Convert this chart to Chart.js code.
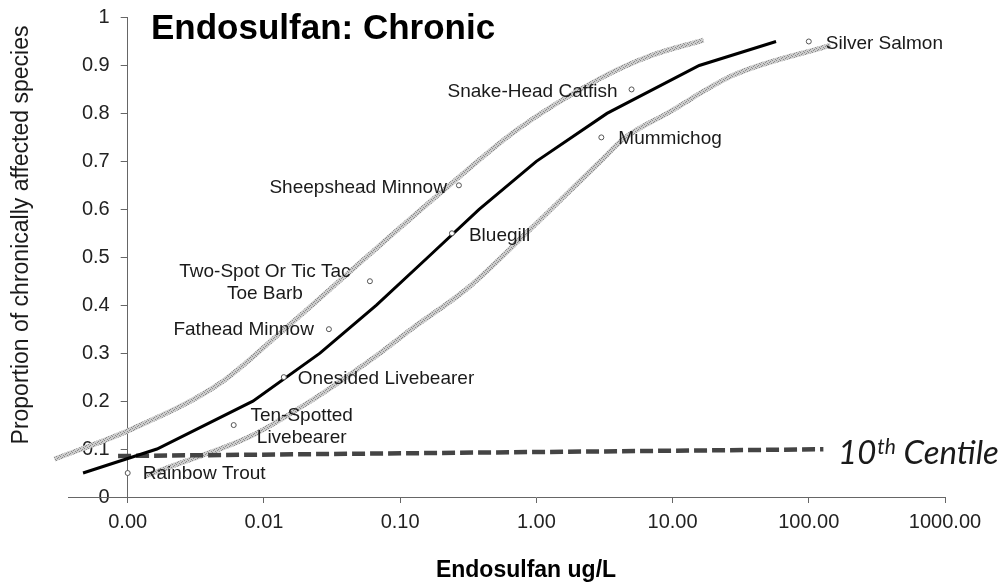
<!DOCTYPE html>
<html>
<head>
<meta charset="utf-8">
<title>Endosulfan: Chronic</title>
<script src="https://cdn.jsdelivr.net/npm/chart.js@4"></script>
<style>
  html, body { margin: 0; padding: 0; background: #fff; }
  #wrap { width: 1006px; height: 583px; position: relative; }
</style>
</head>
<body>
<div id="wrap"><canvas id="ssdChart"></canvas></div>
<script>
// Species sensitivity data
const species = [
  "Rainbow Trout", "Ten-Spotted\nLivebearer", "Onesided Livebearer", "Fathead Minnow",
  "Two-Spot Or Tic Tac\nToe Barb", "Sheepshead Minnow", "Bluegill",
  "Snake-Head Catfish", "Mummichog", "Silver Salmon"
];
const speciesConc = [0.001, 0.006, 0.014, 0.03, 0.06, 0.27, 0.24, 5, 3, 100];
const speciesProp = [0.05, 0.15, 0.25, 0.35, 0.45, 0.65, 0.55, 0.85, 0.75, 0.95];

// fitted curve
const fitConc = [0.00047, 0.00164, 0.0083, 0.0258, 0.067, 0.16, 0.38, 1.0, 3.3, 15.7, 57.5];
const fitProp = [0.05, 0.1, 0.2, 0.3, 0.4, 0.5, 0.6, 0.7, 0.8, 0.9, 0.95];

// confidence bands
const upperConc = [0.00029, 0.00104, 0.00475, 0.0135, 0.0428, 0.071, 0.209, 0.714, 2.95, 6.85, 16.9];
const upperProp = [0.079, 0.14, 0.237, 0.345, 0.47, 0.525, 0.64, 0.765, 0.873, 0.92, 0.953];
const lowerConc = [0.00135, 0.00204, 0.00789, 0.0206, 0.071, 0.118, 0.324, 0.893, 2.95, 4.47, 9.1, 28.1, 144];
const lowerProp = [0.044, 0.063, 0.126, 0.195, 0.3, 0.348, 0.439, 0.557, 0.7, 0.749, 0.8, 0.88, 0.942];

// 10th centile line
const centileConc = [0.00085, 128];
const centileProp = [0.0855, 0.0995];

const xTicks = [0.001, 0.01, 0.1, 1, 10, 100, 1000];

// label placement around each species point: [dx, dy, align]
const labelPlacement = [
  [15, 1, "left"], [68, -9, "center"], [14, 2, "left"], [-15, 1, "right"],
  [-105, -9, "center"], [-12, 2, "right"], [17, 2, "left"],
  [-14, 2, "right"], [17, 1, "left"], [17, 2, "left"]
];

const SANS = "'Liberation Sans', Arial, sans-serif";
const AXIS_GREY = "#666";

function toPoints(xs, ys) {
  return xs.map((x, i) => ({ x: x, y: ys[i] }));
}

// stippled grey stroke used for the confidence band lines
function stipple() {
  const c = document.createElement("canvas");
  c.width = 4;
  c.height = 4;
  const g = c.getContext("2d");
  g.fillStyle = "#cdcdcd";
  g.fillRect(0, 0, 4, 4);
  g.fillStyle = "#8a8a8a";
  g.fillRect(0, 0, 1, 1);
  g.fillRect(2, 1, 1, 1);
  g.fillRect(1, 2, 1, 1);
  g.fillRect(3, 3, 1, 1);
  return g.createPattern(c, "repeat");
}

// the x axis line carries on a little to the left of the y axis
const axisStub = {
  id: "axisStub",
  beforeDatasetsDraw(chart) {
    const ctx = chart.ctx;
    const area = chart.chartArea;
    ctx.save();
    ctx.strokeStyle = AXIS_GREY;
    ctx.lineWidth = 1;
    ctx.beginPath();
    ctx.moveTo(68, Math.round(area.bottom) + 0.5);
    ctx.lineTo(area.left, Math.round(area.bottom) + 0.5);
    ctx.stroke();
    ctx.restore();
  }
};

const textPlugin = {
  id: "chartText",
  afterDatasetsDraw(chart) {
    const ctx = chart.ctx;
    const xs = chart.scales.x;
    const ys = chart.scales.y;
    ctx.save();
    ctx.fillStyle = "#1a1a1a";
    ctx.font = "19px " + SANS;
    ctx.textBaseline = "middle";
    species.forEach((name, i) => {
      const px = xs.getPixelForValue(speciesConc[i]);
      const py = ys.getPixelForValue(speciesProp[i]);
      const [dx, dy, align] = labelPlacement[i];
      ctx.textAlign = align;
      name.split("\n").forEach((line, k) => {
        ctx.fillText(line, px + dx, py + dy + k * 22);
      });
    });

    // chart title
    ctx.fillStyle = "#000";
    ctx.textAlign = "left";
    ctx.textBaseline = "alphabetic";
    ctx.font = "bold 35px " + SANS;
    ctx.fillText("Endosulfan: Chronic", 151, 39);

    // x axis title
    ctx.textAlign = "center";
    ctx.font = "bold 23px " + SANS;
    ctx.fillText("Endosulfan ug/L", 526, 577);

    // y axis title
    ctx.save();
    ctx.translate(28, 235);
    ctx.rotate(-Math.PI / 2);
    ctx.font = "23px " + SANS;
    ctx.fillStyle = "#1a1a1a";
    ctx.fillText("Proportion of chronically affected species", 0, 0);
    ctx.restore();

    // 10th centile label
    ctx.fillStyle = "#1a1a1a";
    ctx.textAlign = "left";
    const cx = 838;
    const cy = 464;
    ctx.font = "italic 33px Lato, 'Open Sans', sans-serif";
    ctx.fillText("10", cx, cy);
    let w = ctx.measureText("10").width;
    ctx.font = "italic 21px Lato, 'Open Sans', sans-serif";
    ctx.fillText("th", cx + w + 1, cy - 10);
    w += ctx.measureText("th").width + 1;
    ctx.font = "italic 33px Lato, 'Open Sans', sans-serif";
    ctx.fillText(" Centile", cx + w, cy);
    ctx.restore();
  }
};

new Chart(document.getElementById("ssdChart"), {
  type: "line",
  data: {
    datasets: [
      {
        type: "scatter",
        label: "Species",
        data: toPoints(speciesConc, speciesProp),
        pointRadius: 2.5,
        pointBorderWidth: 1,
        pointBorderColor: "#555",
        pointBackgroundColor: "#fff",
        showLine: false,
        clip: false,
        order: 0
      },
      {
        label: "Fit",
        data: toPoints(fitConc, fitProp),
        borderColor: "#000",
        borderWidth: 3,
        pointRadius: 0,
        tension: 0,
        fill: false,
        clip: false,
        order: 1
      },
      {
        label: "10th centile",
        data: toPoints(centileConc, centileProp),
        borderColor: "#444",
        borderWidth: 4.5,
        borderDash: [13, 5],
        pointRadius: 0,
        fill: false,
        clip: false,
        order: 2
      },
      {
        label: "Upper",
        data: toPoints(upperConc, upperProp),
        borderColor: stipple(),
        borderWidth: 5,
        pointRadius: 0,
        cubicInterpolationMode: "monotone",
        fill: false,
        clip: false,
        order: 3
      },
      {
        label: "Lower",
        data: toPoints(lowerConc, lowerProp),
        borderColor: stipple(),
        borderWidth: 5,
        pointRadius: 0,
        cubicInterpolationMode: "monotone",
        fill: false,
        clip: false,
        order: 3
      }
    ]
  },
  options: {
    responsive: true,
    maintainAspectRatio: false,
    animation: false,
    layout: { padding: { left: 68, right: 61, top: 17.5, bottom: 0 } },
    plugins: {
      legend: { display: false },
      tooltip: { enabled: false }
    },
    scales: {
      x: {
        type: "logarithmic",
        min: 0.001,
        max: 1000,
        afterBuildTicks: (scale) => {
          scale.ticks = xTicks.map((v) => ({ value: v }));
        },
        afterFit: (scale) => {
          scale.height = 86;
        },
        ticks: {
          callback: (v) => Number(v).toFixed(2),
          font: { family: SANS, size: 20 },
          color: "#222",
          padding: 7,
          maxRotation: 0,
          autoSkip: false
        },
        grid: { drawOnChartArea: false, drawTicks: true, tickLength: 6, color: AXIS_GREY },
        border: { color: AXIS_GREY, width: 1 }
      },
      y: {
        type: "linear",
        position: "left",
        min: 0,
        max: 1,
        afterFit: (scale) => {
          scale.width = 59.7;
          // tick padding would otherwise push the plot top down
          scale.paddingTop = 0;
          scale.paddingBottom = 0;
        },
        ticks: {
          stepSize: 0.1,
          callback: (v) => String(Math.round(v * 10) / 10),
          font: { family: SANS, size: 20 },
          color: "#222",
          padding: 11
        },
        grid: { drawOnChartArea: false, drawTicks: true, tickLength: 7, color: AXIS_GREY },
        border: { color: AXIS_GREY, width: 1 }
      }
    }
  },
  plugins: [axisStub, textPlugin]
});
</script>
</body>
</html>
